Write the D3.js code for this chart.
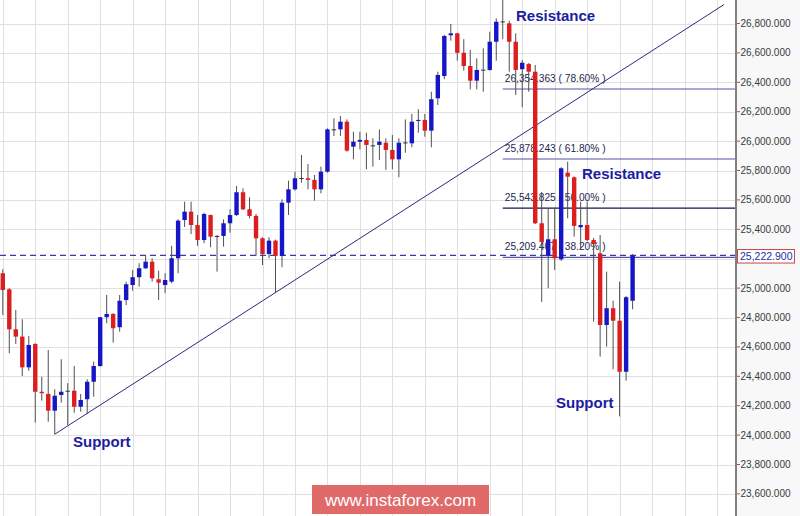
<!DOCTYPE html>
<html>
<head>
<meta charset="utf-8">
<script src="https://cdn.jsdelivr.net/npm/d3@7"></script>
<style>
  html, body { margin: 0; padding: 0; background: #fff; }
  svg { display: block; font-family: "Liberation Sans", Arial, sans-serif; }
</style>
</head>
<body>
<svg id="chart" width="800" height="516"></svg>
<script>
// ---- data ----
const opens  = [25101,24992,24720,24670,24461,24620,24295,24280,24166,24273,
                24300,24302,24193,24244,24363,24470,24802,24824,24734,24919,
                25021,25074,25135,25180,25060,25021,25044,25203,25463,25520,
                25429,25327,25497,25352,25355,25441,25497,25652,25536,25491,
                25339,25232,25323,25219,25581,25672,25745,25747,25736,25672,
                25792,26076,26080,26132,25962,25996,26008,25971,25974,25989,
                25940,25876,25991,25985,26139,26144,26071,26291,26443,26720,
                26733,26601,26511,26411,26482,26484,26676,26810,26801,26676,
                26489,26525,26472,25441,25219,25332,25196,25785,25754,25414,
                25429,25327,25237,24749,24863,24778,24431,24914];
const highs  = [25128,24999,24851,24788,24674,24625,24397,24579,24312,24516,
                24353,24470,24280,24380,24500,24805,24953,24830,24953,25044,
                25123,25169,25225,25203,25118,25101,25287,25468,25588,25588,
                25497,25513,25500,25361,25468,25536,25695,25679,25618,25504,
                25346,25346,25330,25604,25731,25792,25906,25844,25770,25826,
                26087,26155,26171,26148,26064,26064,26057,26019,26080,26019,
                26042,26019,26148,26185,26217,26185,26336,26472,26722,26797,
                26737,26693,26620,26563,26631,26744,26835,26961,26819,26733,
                26552,26530,26518,25654,25543,25543,25822,25860,25760,25588,
                25588,25341,25361,25112,24914,25044,24946,25232];
const lows   = [24817,24557,24620,24402,24438,24085,24234,24091,24006,24221,
                24069,24152,24159,24144,24261,24465,24761,24629,24704,24885,
                24982,25010,25130,25044,24919,24965,25033,25101,25416,25368,
                25287,25305,25278,25112,25282,25377,25491,25531,25475,25219,
                25157,25203,24965,25142,25497,25663,25717,25672,25595,25645,
                25785,26035,26035,25928,25876,25944,25808,25826,25872,25804,
                25808,25754,25921,25958,26057,26030,25958,26246,26421,26683,
                26547,26479,26352,26352,26336,26479,26547,26693,26472,26314,
                26230,26336,25436,24906,24999,25123,25185,25475,25350,25259,
                25320,24772,24534,24602,24448,24127,24370,24856];
const closes = [24987,24720,24670,24461,24613,24295,24285,24166,24268,24295,
                24302,24193,24239,24363,24470,24802,24824,24727,24914,25026,
                25074,25135,25180,25067,25037,25055,25203,25459,25520,25429,
                25327,25504,25350,25355,25441,25497,25652,25536,25491,25339,
                25232,25323,25219,25581,25672,25747,25749,25736,25672,25792,
                26080,26080,26132,25935,25996,26008,25974,25969,25996,25940,
                25876,25989,25988,26132,26144,26071,26285,26450,26715,26733,
                26601,26511,26411,26484,26486,26676,26812,26814,26676,26484,
                26533,26472,25441,25314,25332,25203,25815,25758,25423,25429,
                25327,25300,24749,24863,24778,24431,24938,25222.9];

const yTicks = [23600,23800,24000,24200,24400,24600,24800,25000,25200,
                25400,25600,25800,26000,26200,26400,26600,26800];
const fibValues = [26354.363, 25878.243, 25543.825, 25209.407];
const fibPcts   = ["78.60%", "61.80%", "50.00%", "38.20%"];
const fibStartIndex = 77;
const lastPrice = 25222.900;
// trendline anchor points: [candle index, price]
const trendStart = [8, 24006];
const trendEnd   = [111.05, 26928];

// ---- layout ----
const W = 800, H = 516, plotRight = 736;
const svg = d3.select("#chart");

const x = d3.scaleLinear().domain([0, 97]).range([2.8, 632.6]);
const y = d3.scaleLinear().domain([23600, 26800]).range([493.9, 23.5]);

svg.append("rect").attr("x", 0).attr("y", 0).attr("width", W).attr("height", H).attr("fill", "#fff");
svg.append("rect").attr("x", plotRight).attr("y", 0).attr("width", W - plotRight).attr("height", H).attr("fill", "#f8f8f8");

svg.append("clipPath").attr("id", "plotclip")
  .append("rect").attr("x", 0).attr("y", 0).attr("width", plotRight).attr("height", H);

const plot = svg.append("g").attr("clip-path", "url(#plotclip)");

// grid
plot.append("g").selectAll("line.h").data(yTicks).join("line")
  .attr("x1", 0).attr("x2", plotRight)
  .attr("y1", d => Math.round(y(d)) + 0.5).attr("y2", d => Math.round(y(d)) + 0.5)
  .attr("stroke", "#e0e0e0").attr("stroke-width", 1);
plot.append("g").selectAll("line.v").data(d3.range(0, 115, 5)).join("line")
  .attr("y1", 0).attr("y2", H)
  .attr("x1", d => Math.round(x(d)) + 0.5).attr("x2", d => Math.round(x(d)) + 0.5)
  .attr("stroke", "#e0e0e0").attr("stroke-width", 1);

// current price dashed line
plot.append("line")
  .attr("x1", 0).attr("x2", plotRight)
  .attr("y1", y(lastPrice)).attr("y2", y(lastPrice))
  .attr("stroke", "#3a3aa6").attr("stroke-width", 1.4).attr("stroke-dasharray", "6,4");

// fib lines
const fibColors = ["#5252a8", "#5252a8", "#14144e", "#5252a8"];
plot.append("g").selectAll("line").data(fibValues).join("line")
  .attr("x1", x(fibStartIndex)).attr("x2", plotRight)
  .attr("y1", d => y(d)).attr("y2", d => y(d))
  .attr("stroke", (d, i) => fibColors[i]).attr("stroke-width", 1.2);

const fmt = d3.format(",.3f");
plot.append("g").selectAll("text").data(fibValues).join("text")
  .attr("x", x(fibStartIndex) + 2).attr("y", d => y(d) - 7)
  .attr("font-size", "10.2px").attr("fill", "#262650")
  .text((d, i) => fmt(d) + " ( " + fibPcts[i] + " )");

// trendline
plot.append("line")
  .attr("x1", x(trendStart[0])).attr("y1", y(trendStart[1]))
  .attr("x2", x(trendEnd[0])).attr("y2", y(trendEnd[1]))
  .attr("stroke", "#2a2a7c").attr("stroke-width", 1);

// candles
const idx = d3.range(opens.length);
const bodyW = 4.4;
const g = plot.append("g");
g.selectAll("line.wick").data(idx).join("line")
  .attr("x1", i => x(i)).attr("x2", i => x(i))
  .attr("y1", i => y(highs[i])).attr("y2", i => y(lows[i]))
  .attr("stroke", "#505050").attr("stroke-width", 1);
g.selectAll("rect.body").data(idx).join("rect")
  .attr("x", i => x(i) - bodyW / 2)
  .attr("width", bodyW)
  .attr("y", i => y(Math.max(opens[i], closes[i])))
  .attr("height", i => Math.max(1, Math.abs(y(opens[i]) - y(closes[i]))))
  .attr("fill", i => {
    const d = closes[i] - opens[i];
    if (Math.abs(d) < 5) return "#333";
    return d > 0 ? "#1616c6" : "#dc1e1e";
  });

// annotations
const ann = plot.append("g").attr("font-weight", "bold").attr("font-size", "15px").attr("fill", "#1c1ca0");
ann.append("text").attr("x", 516).attr("y", 21).text("Resistance");
ann.append("text").attr("x", 582).attr("y", 179).text("Resistance");
ann.append("text").attr("x", 73).attr("y", 447).text("Support");
ann.append("text").attr("x", 556).attr("y", 408).text("Support");

// right axis
const axisG = svg.append("g");
axisG.append("line").attr("x1", plotRight).attr("x2", plotRight).attr("y1", 0).attr("y2", H)
  .attr("stroke", "#808080").attr("stroke-width", 2);
const ticks = axisG.selectAll("g.tick").data(yTicks).join("g")
  .attr("transform", d => `translate(0,${y(d)})`);
ticks.append("line").attr("x1", plotRight + 1).attr("x2", plotRight + 4)
  .attr("stroke", "#b05050").attr("stroke-width", 1);
ticks.append("text").attr("x", plotRight + 4.5).attr("dy", "0.35em")
  .attr("font-size", "10px").attr("fill", "#3a3a3a")
  .text(d => fmt(d));

// last price box (covers the 25,200 label as in the reference)
const lp = axisG.append("g").attr("transform", `translate(0,${y(lastPrice)})`);
lp.append("rect").attr("x", 737.5).attr("y", -5.8).attr("width", 57).attr("height", 13.5)
  .attr("fill", "#fff").attr("stroke", "#c84848").attr("stroke-width", 1);
lp.append("text").attr("x", 740).attr("y", 4.3).attr("font-size", "10.5px").attr("fill", "#2a2aa6")
  .text(fmt(lastPrice));

// watermark
const wm = svg.append("g");
wm.append("rect").attr("x", 312).attr("y", 485).attr("width", 177).attr("height", 29).attr("fill", "#e06a6a");
wm.append("text").attr("x", 400.5).attr("y", 506).attr("text-anchor", "middle")
  .attr("font-size", "17px").attr("fill", "#fff").text("www.instaforex.com");
</script>
</body>
</html>
